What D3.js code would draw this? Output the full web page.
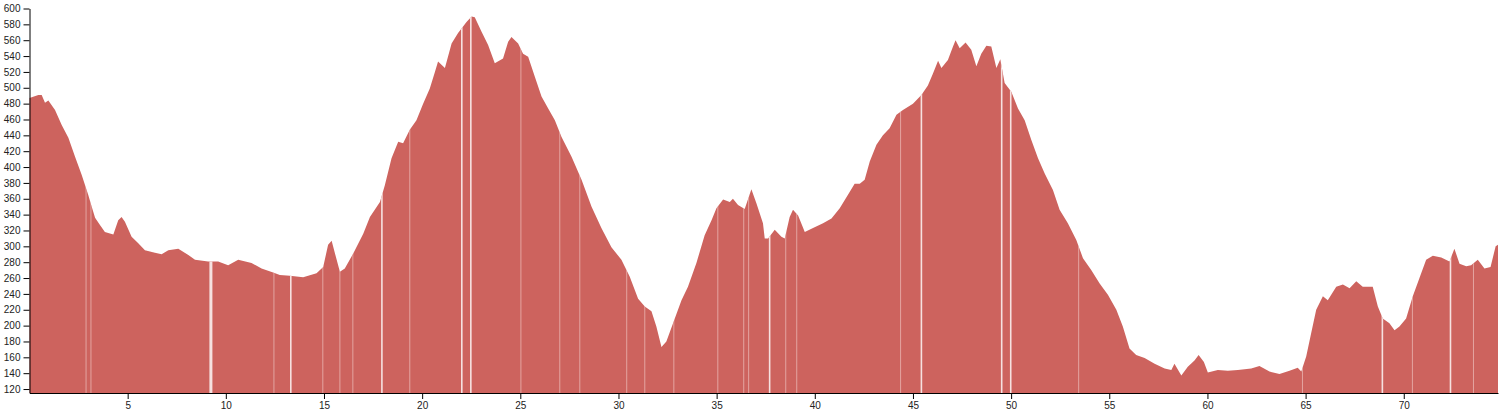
<!DOCTYPE html>
<html>
<head>
<meta charset="utf-8">
<script src="https://cdn.jsdelivr.net/npm/d3@7"></script>
<style>
  html, body { margin: 0; padding: 0; background: #fff; }
  svg { display: block; }
  .axis text { font-family: "Liberation Sans", Arial, sans-serif; font-size: 10px; fill: #222; }
  .axis path, .axis line { stroke: #000; }
</style>
</head>
<body>
<svg id="chart" width="1502" height="412"></svg>
<script>
// distance along route (km)
const distanceKm = [
  0.00, 0.45, 0.62, 0.79, 0.96, 1.30, 1.64, 1.98, 2.32, 2.66, 2.99, 3.17, 3.34, 3.59, 3.84,
  4.27, 4.52, 4.69, 4.86, 5.20, 5.54, 5.88, 6.39, 6.73, 7.07, 7.58, 8.09, 8.43, 9.10, 9.61,
  10.12, 10.63, 11.31, 11.82, 12.41, 12.75, 13.26, 13.94, 14.62, 14.96, 15.21, 15.39, 15.56, 15.81, 16.06,
  16.49, 17.00, 17.34, 17.85, 18.10, 18.44, 18.78, 19.03, 19.37, 19.71, 20.05, 20.39, 20.65, 20.81, 21.16,
  21.50, 21.83, 22.26, 22.52, 22.68, 23.02, 23.36, 23.70, 24.12, 24.38, 24.55, 24.89, 25.14, 25.40, 25.74,
  26.08, 26.42, 26.76, 27.10, 27.61, 28.12, 28.63, 29.13, 29.64, 30.15, 30.57, 31.00, 31.34, 31.68, 31.93,
  32.19, 32.44, 32.78, 33.21, 33.54, 33.97, 34.39, 34.74, 34.99, 35.33, 35.67, 35.83, 36.09, 36.43, 36.77,
  37.03, 37.36, 37.45, 37.62, 37.96, 38.30, 38.47, 38.72, 38.89, 39.15, 39.49, 39.91, 40.42, 40.85, 41.27,
  41.69, 42.03, 42.29, 42.54, 42.80, 43.14, 43.47, 43.81, 44.16, 44.49, 45.00, 45.43, 45.76, 46.02, 46.28,
  46.45, 46.78, 47.04, 47.17, 47.38, 47.68, 47.97, 48.23, 48.48, 48.74, 48.99, 49.25, 49.45, 49.67, 50.01,
  50.35, 50.69, 51.03, 51.37, 51.71, 52.13, 52.47, 52.89, 53.32, 53.66, 54.08, 54.51, 54.93, 55.36, 55.69,
  56.03, 56.37, 56.80, 57.31, 57.82, 58.16, 58.32, 58.67, 59.00, 59.34, 59.55, 59.82, 60.02, 60.53, 61.04,
  61.55, 62.23, 62.65, 63.16, 63.67, 64.18, 64.60, 64.78, 65.03, 65.28, 65.54, 65.88, 66.13, 66.56, 66.90,
  67.24, 67.58, 67.91, 68.42, 68.68, 68.93, 69.27, 69.53, 69.78, 70.12, 70.46, 70.80, 71.14, 71.48, 71.91,
  72.33, 72.58, 72.84, 73.18, 73.43, 73.77, 74.11, 74.42, 74.68, 74.80
];
// elevation (m)
const elevationM = [
  487, 491, 491, 481, 484, 472, 453, 437, 413, 390, 365, 350, 336, 327, 318,
  315, 333, 337, 331, 312, 304, 295, 292, 290, 295, 297, 289, 283, 281, 281,
  276, 283, 279, 272, 267, 264, 263, 261, 266, 274, 302, 307, 291, 268, 272,
  291, 316, 337, 356, 377, 411, 432, 430, 447, 459, 480, 499, 520, 533, 525,
  556, 569, 583, 590, 589, 571, 554, 531, 537, 558, 564, 556, 543, 539, 514,
  489, 474, 459, 438, 413, 384, 350, 323, 299, 283, 262, 234, 224, 218, 199,
  173, 180, 203, 232, 249, 279, 314, 333, 348, 359, 356, 360, 352, 347, 372,
  354, 329, 310, 310, 321, 312, 310, 337, 346, 339, 318, 323, 329, 335, 348,
  365, 379, 379, 384, 407, 428, 440, 449, 466, 472, 480, 491, 503, 518, 534,
  525, 535, 552, 560, 550, 557, 548, 527, 543, 553, 552, 525, 536, 506, 495,
  474, 459, 434, 411, 392, 371, 346, 329, 308, 285, 270, 253, 239, 220, 199,
  171, 163, 159, 152, 146, 144, 152, 137, 148, 156, 163, 154, 141, 144, 143,
  144, 146, 149, 142, 139, 143, 147, 142, 161, 190, 220, 237, 232, 249, 252,
  247, 256, 249, 249, 224, 209, 203, 194, 199, 209, 237, 260, 283, 288, 286,
  281, 297, 278, 275, 276, 283, 272, 274, 300, 302
];
// distances (km) where the profile has missing slivers
const gapStrongKm = [9.24, 13.31, 17.95, 22.02, 22.48, 37.70, 45.43, 49.52, 49.98, 68.91, 72.38];
const gapFaintKm = [2.88, 3.13, 12.45, 14.94, 15.81, 16.47, 19.37, 25.03, 27.01, 28.03, 30.42, 31.34,
  32.82, 35.06, 36.38, 36.63, 38.52, 39.08, 44.37, 53.44, 64.84, 70.44, 73.55];
const xTicks = [5, 10, 15, 20, 25, 30, 35, 40, 45, 50, 55, 60, 65, 70];
const yTicks = [120, 140, 160, 180, 200, 220, 240, 260, 280, 300, 320, 340, 360, 380, 400,
  420, 440, 460, 480, 500, 520, 540, 560, 580, 600];

const data = distanceKm.map((d, i) => ({ d, e: elevationM[i] }));

const svg = d3.select("#chart");
const margin = { left: 29.5, right: 4, top: 8.5, bottom: 19 };
const W = 1502, H = 412;

const x = d3.scaleLinear().domain([0, 74.8]).range([margin.left, W - margin.right]);
const y = d3.scaleLinear().domain([115, 600]).range([H - margin.bottom, margin.top]);

const area = d3.area()
  .x(p => x(p.d))
  .y0(y(115))
  .y1(p => y(p.e));

svg.append("path")
  .datum(data)
  .attr("d", area)
  .attr("fill", "rgb(205,99,94)");

const gapG = svg.append("g");
gapG.selectAll("rect.gs").data(gapStrongKm).join("rect")
  .attr("x", d => x(d) - (d === 9.24 ? 1.5 : 0.8))
  .attr("width", d => d === 9.24 ? 3 : 1.6)
  .attr("y", y(600))
  .attr("height", y(115) - y(600))
  .attr("fill", "#fbeeee")
  .attr("opacity", 0.9);
gapG.selectAll("rect.gf").data(gapFaintKm).join("rect")
  .attr("x", d => x(d) - 0.5)
  .attr("width", 1)
  .attr("y", y(600))
  .attr("height", y(115) - y(600))
  .attr("fill", "#f4d0cd")
  .attr("opacity", 0.6);
// keep gaps only inside the filled area
const clip = svg.append("clipPath").attr("id", "areaClip");
clip.append("path").datum(data).attr("d", area);
gapG.attr("clip-path", "url(#areaClip)");

svg.append("g")
  .attr("class", "axis")
  .attr("transform", `translate(0,${y(115)})`)
  .call(d3.axisBottom(x).tickValues(xTicks).tickSizeOuter(0));

svg.append("g")
  .attr("class", "axis")
  .attr("transform", `translate(${margin.left},0)`)
  .call(d3.axisLeft(y).tickValues(yTicks).tickSizeOuter(0));
</script>
</body>
</html>
